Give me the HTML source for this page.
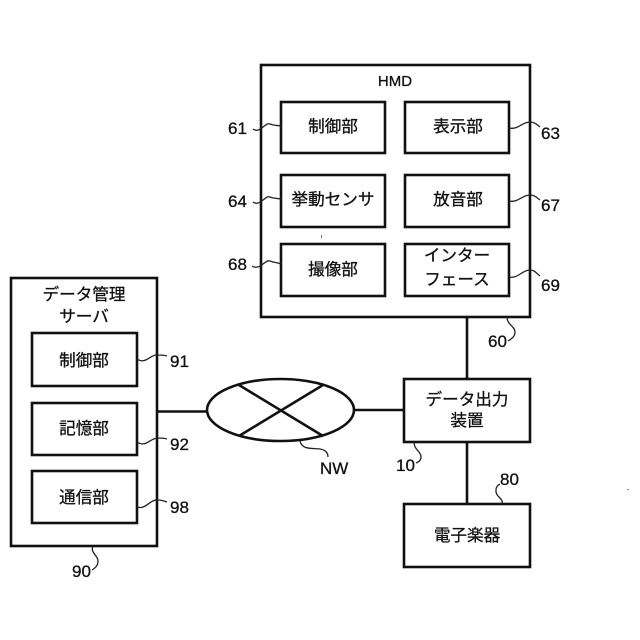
<!DOCTYPE html>
<html><head><meta charset="utf-8"><style>
html,body{margin:0;padding:0;background:#fff}
svg{display:block}
text{font-family:"Liberation Sans","Noto Sans CJK JP",sans-serif;fill:#111;stroke:#111;stroke-width:.3}
.j{font-size:16.6px;text-anchor:middle}
.n{font-size:17px}
.b{fill:#fff;stroke:#111;stroke-width:2.6}
.l{fill:none;stroke:#111;stroke-width:2.6}
.s{fill:none;stroke:#222;stroke-width:1.3}
</style></head><body>
<svg width="640" height="640" viewBox="0 0 640 640" xmlns="http://www.w3.org/2000/svg">
<rect width="640" height="640" fill="#fff"/>
<rect class="b" x="261" y="65" width="269" height="252"/>
<rect class="b" x="281" y="102" width="104" height="51"/>
<rect class="b" x="405" y="102" width="104" height="51"/>
<rect class="b" x="281" y="175" width="104" height="52"/>
<rect class="b" x="405" y="175" width="104" height="52"/>
<rect class="b" x="281" y="244" width="104" height="52"/>
<rect class="b" x="405" y="244" width="104" height="52"/>
<rect class="b" x="11" y="278" width="146" height="268"/>
<rect class="b" x="32" y="333" width="105" height="53"/>
<rect class="b" x="32" y="403" width="105" height="52"/>
<rect class="b" x="32" y="471" width="105" height="52"/>
<path class="l" d="M467 317V379M467 442V504M157 411.5H207M354 410H404"/>
<ellipse class="l" cx="280.5" cy="410" rx="73.5" ry="31"/>
<path class="l" d="M239 385L323 436M239 436L323 385"/>
<rect class="b" x="404" y="379" width="126" height="63"/>
<rect class="b" x="404" y="504" width="126" height="63"/>
<rect x="321" y="235" width="1" height="3" fill="#777"/>
<rect x="627" y="489" width="2" height="1" fill="#888"/>

<text x="395" y="86" class="j" style="font-size:15px">HMD</text>
<text x="333" y="132" class="j">制御部</text>
<text x="458" y="132" class="j">表示部</text>
<text x="333" y="205" class="j">挙動センサ</text>
<text x="458" y="205" class="j">放音部</text>
<text x="333" y="275" class="j">撮像部</text>
<text x="457" y="261" class="j">インター</text>
<text x="457" y="285" class="j">フェース</text>
<text x="84" y="300" class="j">データ管理</text>
<text x="84" y="322" class="j">サーバ</text>
<text x="84" y="366" class="j">制御部</text>
<text x="84" y="434" class="j">記憶部</text>
<text x="84" y="503" class="j">通信部</text>
<text x="467" y="405" class="j">データ出力</text>
<text x="467" y="426" class="j">装置</text>
<text x="467" y="541" class="j">電子楽器</text>

<text class="n" x="228" y="134">61</text>
<text class="n" x="228" y="207">64</text>
<text class="n" x="228" y="270">68</text>
<text class="n" x="541" y="139">63</text>
<text class="n" x="541" y="211">67</text>
<text class="n" x="541" y="291">69</text>
<text class="n" x="488" y="347">60</text>
<text class="n" x="170" y="367">91</text>
<text class="n" x="170" y="450">92</text>
<text class="n" x="170" y="513">98</text>
<text class="n" x="72" y="577">90</text>
<text class="n" x="320" y="474">NW</text>
<text class="n" x="396" y="471">10</text>
<text class="n" x="500" y="485">80</text>

<path class="s" d="M253 129C260 134 265 122 270 124C275 126 276 125 281 126"/>
<path class="s" d="M253 202C260 207 265 195 270 197C275 199 276 198 281 199"/>
<path class="s" d="M252 266C260 271 265 259 270 261C275 263 276 262 281 264"/>
<path class="s" d="M509 128C518 130 522 122 530 122C535 122 537 125 540 127"/>
<path class="s" d="M509 201C518 203 522 195 530 195C535 195 537 198 540 200"/>
<path class="s" d="M509 277C518 279 522 270 530 270C535 270 537 274 540 276"/>
<path class="s" d="M507 317C507 325 515 326 515 332C515 337 511 339 508 341"/>
<path class="s" d="M137 359C146 365 150 354 158 355C162 355 164 355 167 356"/>
<path class="s" d="M137 442C146 448 150 438 158 438C162 438 164 438 167 439"/>
<path class="s" d="M137 507C146 510 150 499 158 500C162 500 164 501 167 502"/>
<path class="s" d="M93 546C90 553 98 555 98 561C98 566 95 568 92 570"/>
<path class="s" d="M300 441C302 450 312 448 320 449C326 450 328 453 328 457"/>
<path class="s" d="M414 442C414 450 421 451 421 457C421 461 418 462 416 463"/>
<path class="s" d="M502 504C504 498 495 497 496 490C496 487 498 485 500 484"/>
</svg>
</body></html>
